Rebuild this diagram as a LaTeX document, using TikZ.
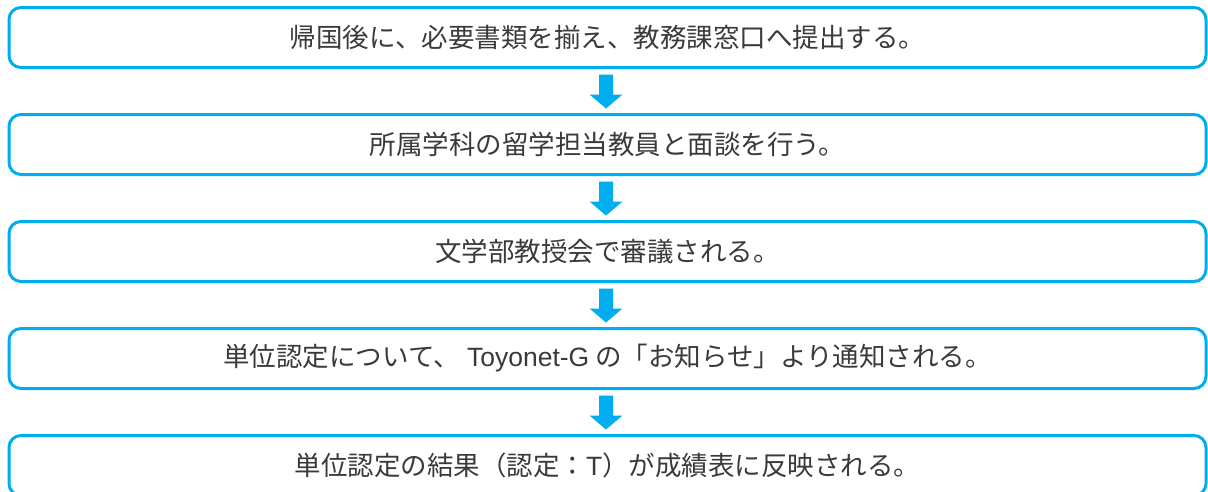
\documentclass[tikz,border=0pt]{standalone}
\usepackage{fontspec}
\newfontfamily\jp{Noto Sans CJK JP}
\newfontfamily\lat{Liberation Sans}
\usetikzlibrary{calc}
\definecolor{flowcyan}{RGB}{0,174,239}
\definecolor{flowtext}{RGB}{58,58,58}
\tikzset{
  flowbox/.style={draw=flowcyan, line width=3pt, rounded corners=12pt,
    minimum width=1197pt, minimum height=60pt, inner sep=0pt,
    text=flowtext, font=\jp\fontsize{26.5pt}{30pt}\selectfont},
  flowarrow/.style={fill=flowcyan, draw=none}
}
\begin{document}
\begin{tikzpicture}[x=1pt,y=-1pt]
\useasboundingbox (0,0) rectangle (1208,491);
\node[flowbox] (b1) at (607.5,37.5) {帰国後に、必要書類を揃え、教務課窓口へ提出する。};
\node[flowbox] (b2) at (607.5,144.5) {所属学科の留学担当教員と面談を行う。};
\node[flowbox] (b3) at (607.5,251.5) {文学部教授会で審議される。};
\node[flowbox] (b4) at (607.5,358.5) {単位認定について、{\lat{} Toyonet-G} の「お知らせ」より通知される。};
\node[flowbox] (b5) at (607.5,465.5) {単位認定の結果（認定：{\lat T}）が成績表に反映される。};
\foreach \a/\b in {b1/b2,b2/b3,b3/b4,b4/b5}{
  \fill[flowarrow] ($(\a.south)+(-8.5,5.5)$) -- ($(\a.south)+(5.5,5.5)$)
    -- ($(\a.south)+(5.5,25.5)$) -- ($(\a.south)+(15,25.5)$)
    -- ($(\b.north)+(-1.5,-4.5)$) -- ($(\a.south)+(-18,25.5)$)
    -- ($(\a.south)+(-8.5,25.5)$) -- cycle;
}
\end{tikzpicture}
\end{document}
